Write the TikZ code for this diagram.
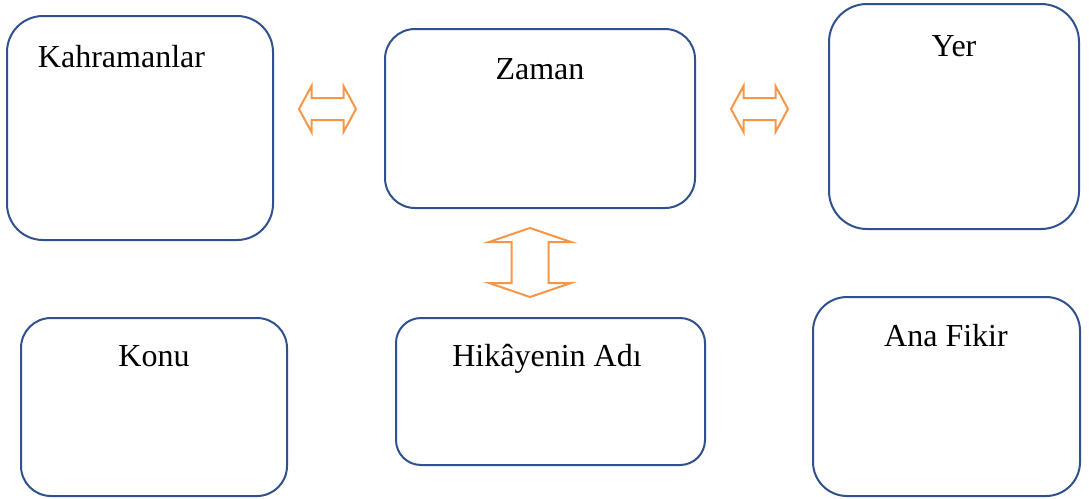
\documentclass[tikz,border=0pt]{standalone}
\usepackage{fontspec}
\setmainfont{Liberation Serif}
\usepackage{tikz}

\definecolor{boxblue}{RGB}{47,82,143}
\definecolor{arroworange}{RGB}{247,150,70}

\tikzset{
    box/.style = {draw = boxblue, line width = 2pt, fill = white},
    label/.style = {anchor = base, font = \fontsize{32}{38}\selectfont},
    arrowline/.style = {draw = arroworange, line width = 2pt, line join = miter},
    harrow/.pic = {
        \path [arrowline] (-28.5,0) -- (-16,-23) -- (-16,-11) -- (16,-11) -- (16,-23)
            -- (28.5,0) -- (16,23) -- (16,11) -- (-16,11) -- (-16,23) -- cycle;
    },
    varrow/.pic = {
        \path [arrowline] (0,-34.5) -- (41,-20.5) -- (18.5,-20.5) -- (18.5,20.5) -- (41,20.5)
            -- (0,34.5) -- (-41,20.5) -- (-18.5,20.5) -- (-18.5,-20.5) -- (-41,-20.5) -- cycle;
    }
}

\begin{document}
\begin{tikzpicture}[x = 1pt, y = -1pt]
    \useasboundingbox (0,0) rectangle (1089,498);
    % upper row
    \node (kahraman) at (140,128) [box, minimum width = 266, minimum height = 224, rounded corners = 36] {};
    \node (kahramanText) at (121.5,67) [label] {Kahramanlar};
    \node (zaman) at (540,118.5) [box, minimum width = 310, minimum height = 179, rounded corners = 30] {};
    \node (zamanText) at (540,79) [label] {Zaman};
    \node (yer) at (954,116.5) [box, minimum width = 250, minimum height = 225, rounded corners = 38] {};
    \node (yerText) at (954,56) [label] {Yer};
    % lower row
    \node (konu) at (154,407) [box, minimum width = 266, minimum height = 178, rounded corners = 30] {};
    \node (konuText) at (154,366) [label] {Konu};
    \node (hikaye) at (550.5,391.5) [box, minimum width = 309, minimum height = 147, rounded corners = 25] {};
    \node (hikayeText) at (547,366) [label] {Hikâyenin Adı};
    \node (fikir) at (946.5,396.5) [box, minimum width = 267, minimum height = 199, rounded corners = 34] {};
    \node (fikirText) at (946,346) [label] {Ana Fikir};
    % double arrows
    \coordinate (leftArrow) at (327.5,109);
    \coordinate (rightArrow) at (759.5,109);
    \coordinate (downArrow) at (530,262.5);
    \pic at (leftArrow) {harrow};
    \pic at (rightArrow) {harrow};
    \pic at (downArrow) {varrow};
\end{tikzpicture}
\end{document}
